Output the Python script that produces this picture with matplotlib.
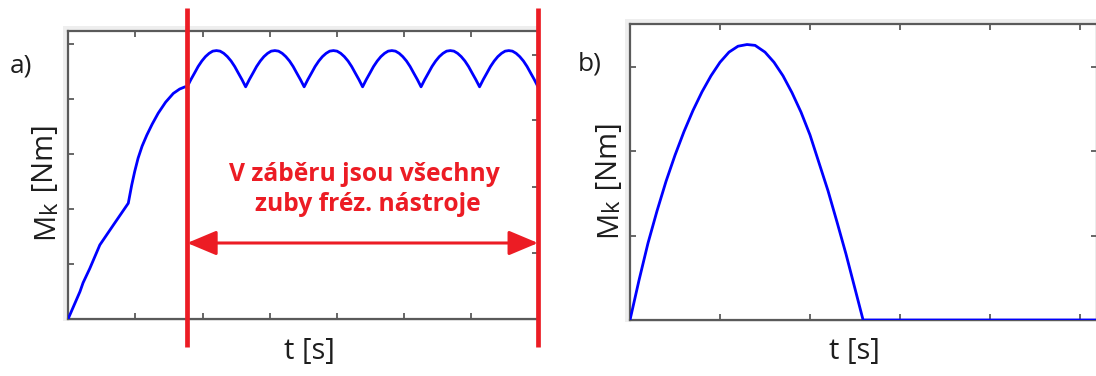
import matplotlib
matplotlib.use("Agg")
import matplotlib.pyplot as plt
from matplotlib.patches import Rectangle

# ---------------- data ----------------
# panel a) ramp-up part
ramp_t = [0.0, 0.174, 0.22, 0.32, 0.47, 0.67, 0.894, 0.945, 0.99, 1.04, 1.10, 1.17, 1.25,
          1.34, 1.45, 1.565, 1.66, 1.74, 1.772]
ramp_M = [0.0, 0.49, 0.65, 0.91, 1.34, 1.70, 2.10, 2.43, 2.68, 2.92, 3.14, 3.34, 3.54,
          3.74, 3.94, 4.10, 4.18, 4.22, 4.22]

# panel a) all teeth engaged – scalloped torque
scal_t = [1.826, 1.881, 1.935, 1.990, 2.044, 2.099, 2.153, 2.208, 2.262, 2.317, 2.371, 2.426, 2.480, 2.534, 2.589, 2.643,
          2.697, 2.752, 2.806, 2.861, 2.915, 2.970, 3.024, 3.079, 3.133, 3.188, 3.242, 3.297, 3.351, 3.405, 3.460, 3.515,
          3.569, 3.624, 3.678, 3.733, 3.787, 3.842, 3.896, 3.951, 4.005, 4.060, 4.114, 4.169, 4.223, 4.277, 4.332, 4.386,
          4.440, 4.495, 4.549, 4.604, 4.658, 4.713, 4.767, 4.822, 4.876, 4.931, 4.985, 5.040, 5.094, 5.148, 5.203, 5.257,
          5.311, 5.366, 5.420, 5.475, 5.529, 5.584, 5.638, 5.693, 5.747, 5.802, 5.856, 5.911, 5.965, 6.019, 6.074, 6.129,
          6.183, 6.238, 6.292, 6.347, 6.401, 6.456, 6.510, 6.565, 6.619, 6.674, 6.728, 6.783, 6.837, 6.891, 6.946, 7.000]
scal_M = [4.35, 4.47, 4.59, 4.69, 4.77, 4.83, 4.87, 4.88, 4.87, 4.83, 4.77, 4.69, 4.59, 4.47, 4.35, 4.22,
          4.35, 4.47, 4.59, 4.69, 4.77, 4.83, 4.87, 4.88, 4.87, 4.83, 4.77, 4.69, 4.59, 4.47, 4.35, 4.22,
          4.35, 4.47, 4.59, 4.69, 4.77, 4.83, 4.87, 4.88, 4.87, 4.83, 4.77, 4.69, 4.59, 4.47, 4.35, 4.22,
          4.35, 4.47, 4.59, 4.69, 4.77, 4.83, 4.87, 4.88, 4.87, 4.83, 4.77, 4.69, 4.59, 4.47, 4.35, 4.22,
          4.35, 4.47, 4.59, 4.69, 4.77, 4.83, 4.87, 4.88, 4.87, 4.83, 4.77, 4.69, 4.59, 4.47, 4.35, 4.22,
          4.35, 4.47, 4.59, 4.69, 4.77, 4.83, 4.87, 4.88, 4.87, 4.83, 4.77, 4.69, 4.59, 4.47, 4.35, 4.22]

# panel b) single tooth cut
b_t = [0.0, 0.1, 0.2, 0.3, 0.4, 0.5, 0.6, 0.7, 0.8, 0.9, 1.0, 1.1, 1.2, 1.3, 1.39,
       1.5, 1.6, 1.7, 1.8, 1.9, 2.0, 2.1, 2.2, 2.3, 2.4, 2.5, 2.59, 5.30]
b_M = [0.0, 0.47, 0.91, 1.29, 1.64, 1.95, 2.23, 2.48, 2.70, 2.89, 3.05, 3.17, 3.24, 3.26, 3.25,
       3.17, 3.05, 2.89, 2.69, 2.46, 2.19, 1.86, 1.53, 1.16, 0.78, 0.37, 0.0, 0.0]

engage_start = 1.772
engage_end = 7.0
annot_text = ["V záběru jsou všechny", "zuby fréz. nástroje"]
xlabel = "t [s]"
ylabel_parts = ["M", "k", " [Nm]"]

# ---------------- style ----------------
W, H = 1096, 376
BLUE = "#0000ff"
RED = "#ec1c24"
SPINE = "#5a5a5a"
TXT = "#1e1e1e"
FONT = ["Open Sans", "DejaVu Sans"]
plt.rcParams["font.family"] = FONT

fig = plt.figure(figsize=(W / 100, H / 100), dpi=100)
renderer = fig.canvas.get_renderer()


def px_box(l, t, r, b):
    return [l / W, 1 - b / H, (r - l) / W, (b - t) / H]


def style_ax(ax, xt, yt):
    for s in ax.spines.values():
        s.set_color(SPINE)
        s.set_linewidth(1.6)
    ax.set_xticks(xt)
    ax.set_yticks(yt)
    ax.tick_params(direction="in", length=4, width=1.3, color=SPINE,
                   top=True, right=True, labelbottom=False, labelleft=False)
    ax.set_facecolor("white")
    ax.set_zorder(2)


def shadow(l, t, r, b):
    fig.patches.append(Rectangle(((l - 5) / W, 1 - (b + 2) / H), (r - l + 7) / W,
                                 (b - t + 7) / H, transform=fig.transFigure,
                                 facecolor="#eeeeee", edgecolor="none", zorder=-5))


def rotated_label(x_base, y_start):
    sizes = [21, 17, 21]
    shifts = [0, 2, 0]
    y = y_start
    for s, fs, dx in zip(ylabel_parts, sizes, shifts):
        t = fig.text((x_base + dx) / W, 1 - y / H, s, rotation=90,
                     rotation_mode="anchor", ha="left", va="baseline",
                     fontsize=fs, color=TXT)
        y -= t.get_window_extent(renderer).height


# ---------------- panel a ----------------
la, ta, ra, ba = 68.3, 31, 538, 318.5
shadow(la, ta, ra, ba)
axa = fig.add_axes(px_box(la, ta, ra, ba))
axa.set_xlim(0, 7)
axa.set_ylim(0, (ba - ta) / 54.9)
style_ax(axa, [1, 2, 3, 4, 5, 6], [0, 1, 2, 3, 4, 5])
axa.plot(ramp_t + scal_t, ramp_M + scal_M, color=BLUE, lw=2.0, zorder=3)

# extra right-side ticks
axr = axa.twinx()
axr.set_zorder(3)
axr.set_ylim(axa.get_ylim())
axr.set_yticks([1.19, 2.40, 3.61, 4.80])
axr.tick_params(direction="in", length=4, width=1.3, color=SPINE, labelright=False)
for s in axr.spines.values():
    s.set_visible(False)

ppu = 54.9
for x in (engage_start, engage_end):
    axr.plot([x, x], [(ba - 347) / ppu, (ba - 8) / ppu], color=RED, lw=3.4,
             clip_on=False, zorder=5, solid_capstyle="butt")

ya = (ba - 243) / ppu
axr.annotate("", xy=(engage_end, ya), xytext=(engage_start, ya),
             arrowprops=dict(arrowstyle="<|-|>,head_length=1.0,head_width=0.42",
                             mutation_scale=18, color=RED, lw=2.2,
                             shrinkA=0, shrinkB=0), zorder=6)
axa.text((364 - la) / 67.1, (ba - 181) / ppu, annot_text[0], color=RED,
         fontsize=17.7, fontweight="bold", ha="center", va="baseline")
axa.text((368 - la) / 67.1, (ba - 211) / ppu, annot_text[1], color=RED,
         fontsize=17.7, fontweight="bold", ha="center", va="baseline")

fig.text(21 / W, 1 - 66 / H, "a)", fontsize=19, color=TXT, ha="center", va="center")
rotated_label(53.5, 239)
fig.text(309 / W, 1 - 352 / H, xlabel, fontsize=21, color=TXT, ha="center", va="center")

# ---------------- panel b ----------------
lb, tb, rb, bb = 630, 24, 1097, 320
shadow(lb, tb, rb, bb)
axb = fig.add_axes(px_box(lb, tb, rb, bb))
axb.set_xlim(0, (rb - lb) / 90.0)
axb.set_ylim(0, (bb - tb) / 84.5)
style_ax(axb, [1, 2, 3, 4, 5], [0, 1, 2, 3])
axb.plot(b_t, b_M, color=BLUE, lw=2.0, zorder=3)

fig.text(590 / W, 1 - 64 / H, "b)", fontsize=19, color=TXT, ha="center", va="center")
rotated_label(616.5, 237)
fig.text(854 / W, 1 - 352 / H, xlabel, fontsize=21, color=TXT, ha="center", va="center")

fig.savefig("out.png", dpi=100, facecolor="white")
